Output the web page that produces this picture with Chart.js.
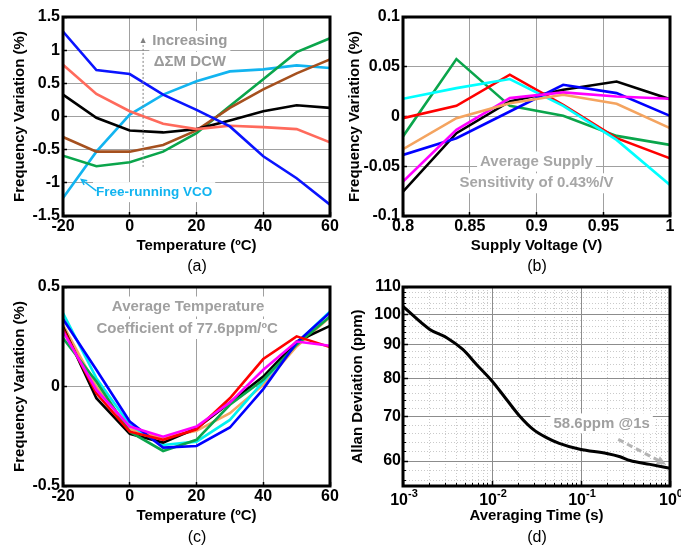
<!DOCTYPE html>
<html>
<head>
<meta charset="utf-8">
<script src="https://cdn.jsdelivr.net/npm/chart.js@4.4.1/dist/chart.umd.min.js"></script>
<style>
body { margin: 0; background: #fff; }
#wrap { position: relative; width: 681px; height: 546px; overflow: hidden; font-family: 'Liberation Sans', Arial, sans-serif; }
canvas { position: absolute; }
.lbl { position: absolute; width: 60px; text-align: center; font-size: 16px; line-height: 18px; color: #000; }
</style>
</head>
<body>
<div id="wrap">
  <canvas id="chartA" width="340" height="270" style="left:0;top:0"></canvas>
  <canvas id="chartB" width="341" height="270" style="left:340px;top:0"></canvas>
  <canvas id="chartC" width="340" height="276" style="left:0;top:270px"></canvas>
  <canvas id="chartD" width="341" height="276" style="left:340px;top:270px"></canvas>
  <div class="lbl" style="left:167px;top:257px">(a)</div>
  <div class="lbl" style="left:507px;top:257px">(b)</div>
  <div class="lbl" style="left:167px;top:528px">(c)</div>
  <div class="lbl" style="left:507px;top:528px">(d)</div>
</div>
<script>
// ---- data ----
var tempC = [-20, -10, 0, 10, 20, 30, 40, 50, 60];
var tempTicks = [-20, 0, 20, 40, 60];

// (a) frequency variation vs temperature for several DCW settings (%)
var aBlue   = [1.28, 0.70, 0.64, 0.33, 0.10, -0.15, -0.60, -0.93, -1.33];
var aSalmon = [0.78, 0.34, 0.08, -0.11, -0.19, -0.14, -0.16, -0.19, -0.39];
var aBlack  = [0.33, -0.02, -0.21, -0.24, -0.19, -0.06, 0.08, 0.17, 0.13];
var aBrown  = [-0.31, -0.53, -0.53, -0.43, -0.21, 0.13, 0.41, 0.65, 0.86];
var aGreen  = [-0.59, -0.75, -0.69, -0.53, -0.25, 0.16, 0.56, 0.97, 1.18];
var aVco    = [-1.23, -0.53, 0.03, 0.33, 0.53, 0.68, 0.71, 0.77, 0.73];
var aYTicks = [-1.5, -1, -0.5, 0, 0.5, 1, 1.5];

// (b) frequency variation vs supply voltage (%)
var volts = [0.8, 0.84, 0.88, 0.92, 0.96, 1.0];
var voltTicks = [0.8, 0.85, 0.9, 0.95, 1];
var bGreen   = [-0.020, 0.0577, 0.0107, 0.0007, -0.0195, -0.0285];
var bRed     = [-0.0017, 0.0107, 0.042, 0.0117, -0.0218, -0.042];
var bCyan    = [0.0178, 0.0285, 0.0376, 0.0107, -0.0235, -0.0688];
var bBlue    = [-0.0386, -0.0218, 0.005, 0.0319, 0.0235, 0.0007];
var bBlack   = [-0.0755, -0.0168, 0.0151, 0.0268, 0.0352, 0.0174];
var bMagenta = [-0.0654, -0.0134, 0.0185, 0.0242, 0.0201, 0.0178];
var bOrange  = [-0.0329, -0.0017, 0.0134, 0.0218, 0.0128, -0.0117];
var bYTicks = [-0.1, -0.05, 0, 0.05, 0.1];

// (c) frequency variation vs temperature, calibrated (%)
var cBlue    = [0.339, 0.084, -0.176, -0.307, -0.299, -0.206, -0.013, 0.221, 0.372];
var cBlack   = [0.30, -0.059, -0.238, -0.282, -0.21, -0.081, 0.05, 0.226, 0.305];
var cRed     = [0.29, -0.034, -0.227, -0.268, -0.215, -0.059, 0.138, 0.252, 0.198];
var cMagenta = [0.277, -0.017, -0.201, -0.252, -0.201, -0.081, 0.084, 0.226, 0.205];
var cGreen   = [0.243, 0.025, -0.227, -0.324, -0.268, -0.092, 0.034, 0.21, 0.352];
var cCyan    = [0.369, 0.042, -0.193, -0.294, -0.277, -0.168, 0.025, 0.218, 0.377];
var cOrange  = [0.31, 0.0, -0.215, -0.257, -0.223, -0.134, 0.008, 0.201, 0.349];
var cYTicks = [-0.5, 0, 0.5];

// (d) Allan deviation (ppm) vs averaging time (s)
var dTime = [0.001, 0.002, 0.0031, 0.0047, 0.0067, 0.01, 0.0145, 0.0204, 0.029, 0.041, 0.057, 0.097, 0.195, 0.275, 0.355, 0.596, 1.0];
var dAdev = [102.8, 94.9, 92.2, 88.5, 84.0, 79.3, 74.4, 70.2, 67.0, 65.1, 63.8, 62.5, 61.6, 60.9, 60.1, 59.3, 58.5];
var dXTicks = [0.001, 0.01, 0.1, 1];
var dXExp = ['-3', '-2', '-1', '0'];
var dYTicks = [60, 70, 80, 90, 100, 110];

// ---- helpers ----
var FAM = "'Liberation Sans', Arial, Helvetica, sans-serif";
var tickFont = { family: FAM, size: 16, weight: 'bold' };
var titleFont = { family: FAM, size: 15, weight: 'bold' };

function pts(xs, ys) {
  return xs.map(function (x, i) { return { x: x, y: ys[i] }; });
}
function line(xs, ys, color) {
  return { data: pts(xs, ys), borderColor: color, borderWidth: 2.6, pointRadius: 0, fill: false, tension: 0 };
}

// text notes, arrows, power-of-ten labels and the black frame round the plot
var notes = {
  id: 'notes',
  beforeDatasetsDraw: function (chart, args, opts) {
    var ctx = chart.ctx, sx = chart.scales.x, sy = chart.scales.y;
    (opts.texts || []).forEach(function (t) {
      var px = sx.getPixelForValue(t.x), py = sy.getPixelForValue(t.y);
      ctx.save();
      ctx.font = 'bold ' + (t.size || 15) + 'px ' + FAM;
      var w = ctx.measureText(t.text).width;
      ctx.fillStyle = '#fff';
      ctx.fillRect(px - w / 2 - 3, py - 10, w + 6, 20);
      ctx.fillStyle = t.color;
      ctx.textAlign = 'center';
      ctx.textBaseline = 'middle';
      ctx.fillText(t.text, px, py);
      ctx.restore();
    });
  },
  afterDatasetsDraw: function (chart, args, opts) {
    var ctx = chart.ctx, sx = chart.scales.x, sy = chart.scales.y, a = chart.chartArea;
    (opts.arrows || []).forEach(function (r) {
      var x1 = sx.getPixelForValue(r.from[0]), y1 = sy.getPixelForValue(r.from[1]);
      var x2 = sx.getPixelForValue(r.to[0]), y2 = sy.getPixelForValue(r.to[1]);
      var ang = Math.atan2(y2 - y1, x2 - x1), h = r.head;
      ctx.save();
      ctx.strokeStyle = r.color;
      ctx.fillStyle = r.color;
      ctx.lineWidth = r.width;
      ctx.setLineDash(r.dash || []);
      ctx.beginPath();
      var ex = r.open ? x2 : x2 - Math.cos(ang) * h * 0.8;
      var ey = r.open ? y2 : y2 - Math.sin(ang) * h * 0.8;
      ctx.moveTo(x1, y1);
      ctx.lineTo(ex, ey);
      ctx.stroke();
      ctx.setLineDash([]);
      ctx.beginPath();
      ctx.moveTo(x2 - Math.cos(ang - 0.45) * h, y2 - Math.sin(ang - 0.45) * h);
      ctx.lineTo(x2, y2);
      ctx.lineTo(x2 - Math.cos(ang + 0.45) * h, y2 - Math.sin(ang + 0.45) * h);
      if (r.open) { ctx.lineWidth = 1.5; ctx.stroke(); } else { ctx.closePath(); ctx.fill(); }
      ctx.restore();
    });
    ctx.save();
    ctx.lineWidth = 3;
    ctx.strokeStyle = '#000';
    ctx.strokeRect(a.left, a.top, a.right - a.left, a.bottom - a.top);
    ctx.restore();
  },
  afterDraw: function (chart, args, opts) {
    if (!opts.pow) return;
    var ctx = chart.ctx, sx = chart.scales.x, a = chart.chartArea;
    opts.pow.values.forEach(function (v, i) {
      var px = sx.getPixelForValue(v), e = opts.pow.exps[i];
      ctx.save();
      ctx.fillStyle = '#000';
      ctx.textBaseline = 'alphabetic';
      ctx.textAlign = 'left';
      ctx.font = 'bold 16px ' + FAM;
      var w1 = ctx.measureText('10').width;
      ctx.font = 'bold 11px ' + FAM;
      var w2 = ctx.measureText(e).width;
      var x0 = px - (w1 + w2) / 2 + 1;
      ctx.font = 'bold 16px ' + FAM;
      ctx.fillText('10', x0, a.bottom + 19);
      ctx.font = 'bold 11px ' + FAM;
      ctx.fillText(e, x0 + w1, a.bottom + 11);
      ctx.restore();
    });
  }
};

function linScales(o) {
  return {
    x: {
      type: 'linear', min: o.xmin, max: o.xmax, weight: 1,
      afterBuildTicks: function (s) { s.ticks = o.xticks.map(function (v) { return { value: v }; }); },
      ticks: { font: tickFont, color: '#000', padding: 5, maxRotation: 0, autoSkip: false,
               callback: function (v) { return String(v); } },
      grid: { color: '#a0a0a0', lineWidth: 1, tickLength: -4, tickColor: '#000', tickWidth: 1.5 },
      border: { display: false },
      title: { display: true, text: o.xtitle, font: titleFont, color: '#000', padding: { top: 0, bottom: o.xtpad } },
      afterFit: function (s) { s.height = o.xh; s.paddingLeft = 0; s.paddingRight = 0; }
    },
    y: {
      type: 'linear', min: o.ymin, max: o.ymax, weight: 1,
      afterBuildTicks: function (s) { s.ticks = o.yticks.map(function (v) { return { value: v }; }); },
      ticks: { font: tickFont, color: '#000', padding: 7, autoSkip: false,
               callback: function (v) { return String(v); } },
      grid: { color: '#a0a0a0', lineWidth: 1, tickLength: -4, tickColor: '#000', tickWidth: 1.5 },
      border: { display: false },
      title: { display: true, text: o.ytitle, font: titleFont, color: '#000', padding: { top: o.ytpad, bottom: 0 } },
      afterFit: function (s) { s.width = 63; s.paddingTop = 0; s.paddingBottom = 0; }
    }
  };
}

function baseOptions(scales, pad, noteOpts) {
  return {
    responsive: false,
    animation: false,
    devicePixelRatio: 1,
    layout: { padding: pad },
    plugins: { legend: { display: false }, tooltip: { enabled: false }, notes: noteOpts },
    scales: scales
  };
}

// ---- (a) ----
new Chart(document.getElementById('chartA'), {
  type: 'line',
  data: {
    datasets: [
      line(tempC, aBlue, '#0a14ff'),
      line(tempC, aSalmon, '#ff6a5c'),
      line(tempC, aBlack, '#000000'),
      line(tempC, aBrown, '#a5501e'),
      line(tempC, aGreen, '#0aa54b'),
      line(tempC, aVco, '#12b4f0')
    ]
  },
  options: baseOptions(
    linScales({ xmin: -20, xmax: 60, xticks: tempTicks, xtitle: 'Temperature (\u00BAC)', xtpad: 15, xh: 54,
                ymin: -1.5, ymax: 1.5, yticks: aYTicks, ytitle: 'Frequency Variation (%)', ytpad: 11 }),
    { left: 0, right: 10, top: 17, bottom: 0 },
    {
      texts: [
        { text: 'Increasing', x: 18, y: 1.14, color: '#9a9a9a' },
        { text: '\u0394\u03A3M DCW', x: 18, y: 0.825, color: '#9a9a9a' },
        { text: 'Free-running VCO', x: 7.3, y: -1.14, color: '#12b4f0', size: 13.5 }
      ],
      arrows: [
        { from: [4, -0.76], to: [4, 1.19], color: '#808080', width: 1, dash: [2, 2], head: 6 },
        { from: [-10, -1.12], to: [-14.5, -0.95], color: '#12b4f0', width: 1.5, head: 6, open: true }
      ]
    }
  ),
  plugins: [notes]
});

// ---- (b) ----
new Chart(document.getElementById('chartB'), {
  type: 'line',
  data: {
    datasets: [
      line(volts, bOrange, '#f4a460'),
      line(volts, bMagenta, '#ff00ff'),
      line(volts, bBlue, '#0000ff'),
      line(volts, bBlack, '#000000'),
      line(volts, bCyan, '#00ffff'),
      line(volts, bRed, '#ff0000'),
      line(volts, bGreen, '#0aa54b')
    ]
  },
  options: baseOptions(
    linScales({ xmin: 0.8, xmax: 1, xticks: voltTicks, xtitle: 'Supply Voltage (V)', xtpad: 15, xh: 54,
                ymin: -0.1, ymax: 0.1, yticks: bYTicks, ytitle: 'Frequency Variation (%)', ytpad: 6 }),
    { left: 0, right: 11, top: 17, bottom: 0 },
    {
      texts: [
        { text: 'Average Supply', x: 0.9, y: -0.0453, color: '#a6a6a6' },
        { text: 'Sensitivity of 0.43%/V', x: 0.9, y: -0.0671, color: '#a6a6a6' }
      ],
      arrows: []
    }
  ),
  plugins: [notes]
});

// ---- (c) ----
new Chart(document.getElementById('chartC'), {
  type: 'line',
  data: {
    datasets: [
      line(tempC, cMagenta, '#ff00ff'),
      line(tempC, cRed, '#ff0000'),
      line(tempC, cBlue, '#0000ff'),
      line(tempC, cGreen, '#0aa54b'),
      line(tempC, cBlack, '#000000'),
      line(tempC, cCyan, '#00f0f0'),
      line(tempC, cOrange, '#f4a460')
    ]
  },
  options: baseOptions(
    linScales({ xmin: -20, xmax: 60, xticks: tempTicks, xtitle: 'Temperature (\u00BAC)', xtpad: 21, xh: 60,
                ymin: -0.5, ymax: 0.5, yticks: cYTicks, ytitle: 'Frequency Variation (%)', ytpad: 11 }),
    { left: 0, right: 10, top: 17, bottom: 0 },
    {
      texts: [
        { text: 'Average Temperature', x: 17.5, y: 0.402, color: '#a0a0a0' },
        { text: 'Coefficient of 77.6ppm/\u00BAC', x: 17.2, y: 0.289, color: '#a0a0a0' }
      ],
      arrows: []
    }
  ),
  plugins: [notes]
});

// ---- (d) ----
var dMinorX = [];
[0.001, 0.01, 0.1].forEach(function (d) {
  for (var k = 2; k <= 9; k++) dMinorX.push(Math.round(d * k * 1e6) / 1e6);
});
var dMinorY = [];
for (var v = 56; v < 110; v += 2) { if (v % 10 !== 0) dMinorY.push(v); }

new Chart(document.getElementById('chartD'), {
  type: 'line',
  data: {
    datasets: [
      { data: pts(dTime, dAdev), borderColor: '#000', borderWidth: 3, pointRadius: 0, fill: false,
        cubicInterpolationMode: 'monotone' }
    ]
  },
  options: baseOptions({
    x: {
      type: 'logarithmic', min: 0.001, max: 1, weight: 1,
      afterBuildTicks: function (s) { s.ticks = dXTicks.map(function (v) { return { value: v }; }); },
      ticks: { font: tickFont, color: '#000', padding: 5, maxRotation: 0, autoSkip: false,
               callback: function () { return ''; } },
      grid: { color: '#8c8c8c', lineWidth: 1, tickLength: -5, tickColor: '#000', tickWidth: 1.5 },
      border: { display: false },
      title: { display: true, text: 'Averaging Time (s)', font: titleFont, color: '#000', padding: { top: 0, bottom: 21 } },
      afterFit: function (s) { s.height = 60; s.paddingLeft = 0; s.paddingRight = 0; }
    },
    xMinor: {
      type: 'logarithmic', min: 0.001, max: 1, position: 'bottom', weight: 0,
      afterBuildTicks: function (s) { s.ticks = dMinorX.map(function (v) { return { value: v }; }); },
      ticks: { display: false },
      grid: { color: '#cacaca', lineWidth: 1, tickLength: -3, tickColor: '#000', tickWidth: 1 },
      border: { display: false, dash: [1, 2] },
      afterFit: function (s) { s.height = 0; s.paddingLeft = 0; s.paddingRight = 0; }
    },
    y: {
      type: 'logarithmic', min: 55, max: 110, weight: 1,
      afterBuildTicks: function (s) { s.ticks = dYTicks.map(function (v) { return { value: v }; }); },
      ticks: { font: tickFont, color: '#000', padding: 7, autoSkip: false,
               callback: function (v) { return String(v); } },
      grid: { color: '#8c8c8c', lineWidth: 1, tickLength: -5, tickColor: '#000', tickWidth: 1.5 },
      border: { display: false },
      title: { display: true, text: 'Allan Deviation (ppm)', font: titleFont, color: '#000', padding: { top: 9, bottom: 0 } },
      afterFit: function (s) { s.width = 63; s.paddingTop = 0; s.paddingBottom = 0; }
    },
    yMinor: {
      type: 'logarithmic', min: 55, max: 110, position: 'left', weight: 0,
      afterBuildTicks: function (s) { s.ticks = dMinorY.map(function (v) { return { value: v }; }); },
      ticks: { display: false },
      grid: { color: '#cacaca', lineWidth: 1, tickLength: -3, tickColor: '#000', tickWidth: 1 },
      border: { display: false, dash: [1, 2] },
      afterFit: function (s) { s.width = 0; s.paddingTop = 0; s.paddingBottom = 0; }
    }
  },
  { left: 0, right: 11, top: 17, bottom: 0 },
  {
    texts: [
      { text: '58.6ppm @1s', x: 0.1706, y: 68.4, color: '#a0a0a0' }
    ],
    arrows: [
      { from: [0.262, 64.7], to: [0.9, 59.3], color: '#b4b4b4', width: 3, dash: [6, 4], head: 10 }
    ],
    pow: { values: dXTicks, exps: dXExp }
  }),
  plugins: [notes]
});
</script>
</body>
</html>
